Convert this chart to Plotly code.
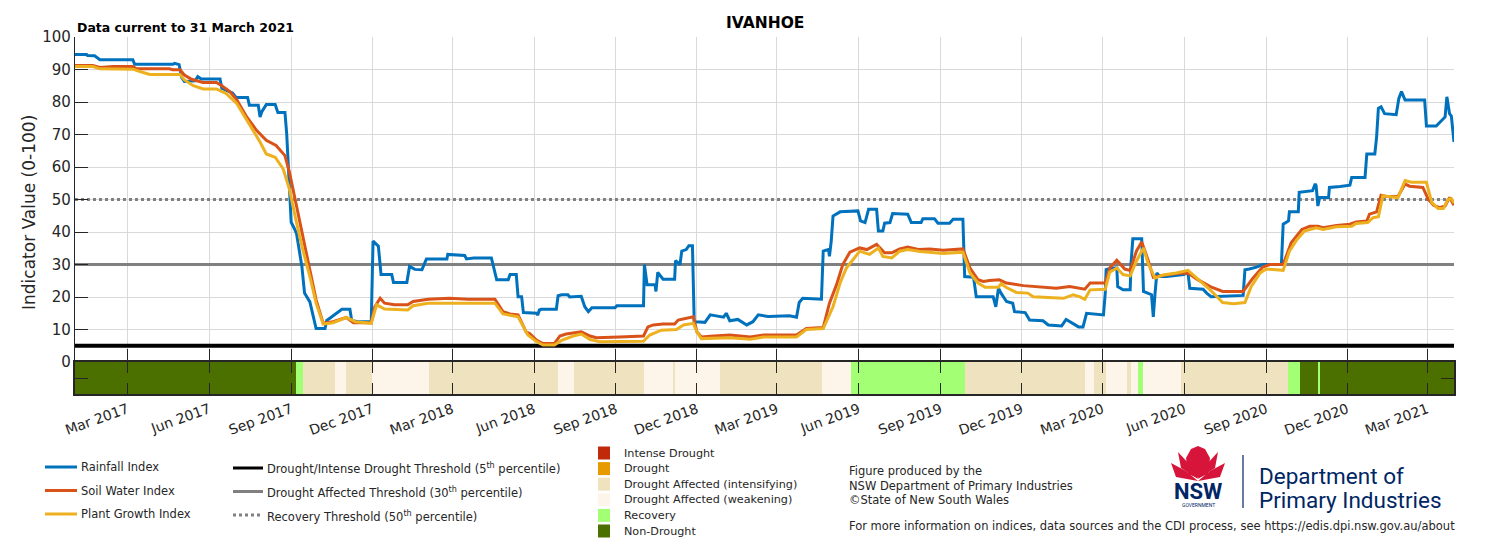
import plotly.graph_objects as go
import pandas as pd

# ---------------- data ----------------
BASE = pd.Timestamp("2017-01-01")
END_DAY = 1550  # 31 March 2021

title_text = "IVANHOE"
subtitle_text = "Data current to 31 March 2021"

# (day offset from 1 Jan 2017, index value)
rainfall = [(0,94.6),(13,94.6),(14,94.3),(22,94.2),(28,93.0),(65,93.0),(67,91.6),(110,91.6),(112,91.9),(117,91.5),
    (120,87.5),(123,86.3),(135,86.5),(138,87.8),(142,87.1),(163,87.1),(165,84.2),(177,82.8),(181,81.4),(194,81.4),
    (196,79.0),(206,79.0),(208,75.4),(210,77.0),(215,79.2),(225,79.2),(228,76.8),(236,76.8),(238,70.0),(241,55.0),
    (243,43.0),(247,40.8),(249,39.5),(255,29.4),(258,21.2),(264,18.5),(268,13.9),(271,10.3),(281,10.3),(283,12.8),
    (286,13.4),(292,14.5),(300,16.2),(309,16.2),(311,12.8),(318,12.4),(333,12.4),(335,37.2),(341,35.6),(344,26.9),
    (356,26.9),(358,24.5),(373,24.5),(376,29.4),(382,28.5),(390,28.4),(395,31.7),(418,31.7),(419,33.1),(438,32.8),
    (440,31.7),(448,32.0),(468,32.0),(474,25.3),(487,25.3),(489,26.9),(496,26.9),(498,20.1),(502,20.1),(504,15.2),
    (519,15.0),(520,14.4),(522,16.0),(524,16.2),(541,16.2),(543,20.4),(547,20.7),(554,20.7),(556,20.0),(569,20.2),
    (573,17.0),(577,15.5),(581,16.7),(607,16.7),(609,17.3),(639,17.3),(640,30.0),(643,23.8),(652,23.8),(653,21.7),
    (655,27.6),(661,25.5),(674,25.5),(675,31.2),(680,30.0),(682,34.1),(687,34.6),(690,35.8),(694,35.8),(696,12.4),
    (708,12.2),(714,14.5),(721,14.2),(729,13.8),(732,15.0),(736,12.7),(745,13.1),(755,11.4),(762,12.4),(768,14.5),
    (779,14.0),(803,14.2),(811,13.8),(814,18.3),(818,19.6),(839,19.3),(841,34.1),(847,34.6),(848,32.5),(850,37.2),
    (852,44.9),(860,46.2),(880,46.5),(883,43.4),(888,42.9),(892,47.0),(901,47.0),(903,40.3),(908,40.3),(910,42.7),
    (916,42.9),(919,45.7),(936,45.5),(940,42.9),(951,42.9),(953,44.1),(966,44.1),(970,42.7),(983,42.7),(987,43.9),
    (998,43.9),(1000,26.3),(1010,26.1),(1013,20.1),(1032,20.1),(1035,17.0),(1038,22.7),(1041,21.1),(1047,18.6),(1054,18.1),
    (1056,15.5),(1068,15.2),(1073,12.9),(1088,12.7),(1094,11.4),(1109,11.1),(1114,13.1),(1120,12.1),(1128,10.8),(1133,10.8),
    (1137,15.0),(1156,14.5),(1158,21.2),(1159,28.4),(1165,28.9),(1171,28.9),(1172,23.2),(1178,22.2),(1186,22.2),(1187,30.5),
    (1189,37.9),(1199,37.9),(1200,29.4),(1201,21.7),(1210,20.7),(1212,13.9),(1214,21.2),(1216,27.4),(1219,26.3),(1227,26.3),
    (1246,26.9),(1251,27.4),(1253,22.7),(1268,22.4),(1272,21.2),(1277,20.1),(1313,20.5),(1315,28.4),(1320,28.6),(1328,29.2),
    (1335,30.0),(1356,30.0),(1358,42.4),(1364,43.4),(1365,46.2),(1375,46.2),(1376,52.2),(1391,52.7),(1394,54.8),(1395,54.3),
    (1397,48.0),(1399,50.6),(1409,50.6),(1410,53.7),(1422,54.0),(1433,54.4),(1435,56.8),(1450,56.8),(1452,64.0),(1461,64.0),
    (1463,69.2),(1465,78.0),(1468,78.5),(1472,76.4),(1485,76.1),(1488,81.1),(1491,83.2),(1495,80.6),(1517,80.6),(1519,72.6),
    (1530,72.6),(1536,74.4),(1540,75.4),(1542,81.6),(1545,76.4),(1547,75.7),(1550,67.7)]

soil_water = [(0,91.2),(20,91.2),(28,90.6),(43,90.9),(65,90.9),(69,90.2),(106,90.2),(110,89.9),(118,89.9),(123,88.3),
    (131,87.0),(144,86.0),(159,86.0),(165,85.0),(174,83.2),(182,80.6),(193,75.4),(204,71.3),(215,68.2),(226,66.6),
    (236,63.5),(241,58.4),(249,48.0),(256,38.7),(264,28.4),(271,19.1),(279,11.9),(290,12.4),(305,13.7),(313,12.1),
    (333,12.1),(337,17.0),(343,19.6),(348,18.1),(359,17.6),(374,17.6),(380,18.6),(397,19.3),(421,19.6),(442,19.3),
    (472,19.3),(481,15.5),(489,14.8),(498,14.5),(507,9.3),(511,8.8),(519,6.7),(526,5.7),(539,5.7),(545,8.0),
    (552,8.6),(560,9.0),(569,9.3),(579,8.0),(586,7.5),(612,7.7),(639,8.0),(644,10.8),(650,11.4),(661,11.7),
    (674,11.7),(678,12.9),(685,13.4),(695,13.9),(699,9.3),(704,7.7),(714,7.9),(736,8.3),(759,7.7),(774,8.3),
    (811,8.3),(822,10.3),(841,10.6),(848,18.1),(856,23.8),(863,30.0),(871,33.8),(882,35.1),(890,34.6),(901,36.2),
    (910,33.6),(918,33.6),(927,34.8),(936,35.4),(948,34.6),(961,34.8),(976,34.4),(998,34.8),(1006,28.9),(1015,25.3),
    (1021,24.8),(1028,25.1),(1039,25.3),(1047,24.3),(1066,23.5),(1084,23.1),(1103,22.7),(1118,23.2),(1129,22.7),(1135,22.4),
    (1141,24.3),(1158,24.3),(1163,28.9),(1171,31.3),(1180,28.6),(1186,28.2),(1193,34.1),(1199,36.9),(1206,31.5),(1212,26.1),
    (1219,26.5),(1238,27.2),(1251,27.4),(1261,25.5),(1276,23.2),(1290,21.7),(1313,21.7),(1324,25.8),(1335,29.2),(1343,30.0),
    (1358,30.0),(1367,36.7),(1379,40.8),(1388,41.8),(1397,41.8),(1403,41.3),(1418,42.0),(1433,42.4),(1440,43.1),(1452,43.4),
    (1455,45.5),(1463,46.2),(1468,51.3),(1474,50.9),(1487,50.9),(1495,54.8),(1500,54.1),(1515,53.7),(1521,50.1),(1527,48.2),
    (1534,47.5),(1540,48.0),(1545,50.6),(1550,48.2)]

plant_growth = [(0,90.9),(20,90.9),(28,90.2),(65,90.1),(73,89.4),(84,88.5),(118,88.5),(123,86.8),(133,85.0),(144,84.0),
    (159,84.0),(170,82.6),(182,79.5),(197,72.8),(208,67.7),(215,64.0),(225,63.0),(234,59.4),(241,53.2),(249,42.9),
    (256,34.6),(264,26.3),(271,18.1),(279,11.7),(290,12.1),(305,13.7),(315,12.4),(333,11.9),(339,17.6),(348,16.3),
    (374,16.0),(380,17.3),(397,18.1),(472,18.1),(481,14.8),(498,13.9),(509,8.3),(519,6.2),(526,5.2),(539,5.2),
    (547,6.7),(560,8.0),(569,8.6),(579,6.9),(590,6.2),(639,6.4),(646,8.3),(659,9.8),(676,10.0),(684,11.4),
    (695,11.9),(699,9.3),(704,7.2),(736,7.5),(759,7.0),(774,7.7),(811,7.7),(822,10.0),(841,10.3),(852,17.0),
    (860,24.3),(867,28.9),(882,34.1),(893,33.1),(903,35.1),(908,32.5),(918,32.0),(927,34.1),(936,34.6),(950,34.0),
    (976,33.4),(998,33.8),(1006,27.4),(1015,24.3),(1023,23.0),(1038,23.0),(1041,24.1),(1047,22.9),(1058,21.4),(1071,21.2),
    (1077,20.1),(1111,19.6),(1122,20.7),(1129,20.1),(1135,19.3),(1141,22.2),(1158,22.4),(1163,27.6),(1171,28.9),(1178,26.9),
    (1186,26.5),(1193,31.0),(1201,35.1),(1206,30.5),(1214,25.8),(1223,26.8),(1238,27.4),(1251,28.2),(1261,25.8),(1276,22.2),
    (1290,18.3),(1302,17.9),(1315,18.3),(1322,23.2),(1332,27.4),(1339,28.6),(1358,28.2),(1365,34.1),(1373,37.5),(1382,40.3),
    (1395,41.3),(1403,40.8),(1418,41.6),(1435,41.8),(1440,42.6),(1453,42.9),(1459,44.4),(1465,44.7),(1470,51.1),(1487,50.6),
    (1495,55.8),(1502,55.3),(1519,55.3),(1525,49.1),(1532,47.2),(1538,47.2),(1543,49.9),(1547,50.3),(1550,48.9)]

series_names = ["Rainfall Index", "Soil Water Index", "Plant Growth Index"]
series_colors = ["#0072BD", "#D95319", "#EDB120"]

threshold_values = [5, 30, 50]
threshold_names = ["Drought/Intense Drought Threshold (5<sup>th</sup> percentile)",
                   "Drought Affected Threshold (30<sup>th</sup> percentile)",
                   "Recovery Threshold (50<sup>th</sup> percentile)"]

# drought status band: start day of each phase and its category
band_start_days = [0, 248, 256, 292, 305, 334, 398, 543, 561, 640, 672, 674, 725, 840,
                   872, 1000, 1135, 1145, 1159, 1182, 1187, 1195, 1200, 1243, 1363, 1377, 1397, 1399]
band_categories = ["ND", "R", "I", "W", "I", "W", "I", "W", "I", "W", "I", "W", "I", "W",
                   "R", "I", "W", "I", "W", "I", "W", "R", "W", "I", "R", "ND", "R", "ND"]
status_codes = ["ID", "D", "I", "W", "R", "ND"]
status_names = ["Intense Drought", "Drought", "Drought Affected (intensifying)",
                "Drought Affected (weakening)", "Recovery", "Non-Drought"]
status_colors = ["#C1290B", "#E69A00", "#EFE2BE", "#FEF5EA", "#A3FF73", "#4C7000"]

tick_dates = ["2017-03-01", "2017-06-01", "2017-09-01", "2017-12-01", "2018-03-01", "2018-06-01",
              "2018-09-01", "2018-12-01", "2019-03-01", "2019-06-01", "2019-09-01", "2019-12-01",
              "2020-03-01", "2020-06-01", "2020-09-01", "2020-12-01", "2021-03-01"]
tick_labels = ["Mar 2017", "Jun 2017", "Sep 2017", "Dec 2017", "Mar 2018", "Jun 2018",
               "Sep 2018", "Dec 2018", "Mar 2019", "Jun 2019", "Sep 2019", "Dec 2019",
               "Mar 2020", "Jun 2020", "Sep 2020", "Dec 2020", "Mar 2021"]

# ---------------- figure ----------------
W, H = 1500, 541
ML, MR, MT, MB = 75, 46, 37, 147
PW, PH = W - ML - MR, H - MT - MB
BAND_FRAC = 32 / PH
FONT = "DejaVu Sans"
AX = "#262626"


def to_dates(days):
    return [BASE + pd.Timedelta(days=d) for d in days]


def pp(px, py):
    """pixel position -> paper coordinates (for legend/annotation decoration)"""
    return (px - ML) / PW, (H - MB - py) / PH


fig = go.Figure()

# drought status band
seg_ends = band_start_days[1:] + [END_DAY]
for code, col in zip(status_codes, status_colors):
    idx = [i for i, c in enumerate(band_categories) if c == code]
    if not idx:
        continue
    fig.add_trace(go.Bar(
        x=to_dates([band_start_days[i] for i in idx]),
        y=[10] * len(idx), base=-10, offset=0,
        width=[(seg_ends[i] - band_start_days[i]) * 86400000 for i in idx],
        marker=dict(color=col, line=dict(width=0)),
        xaxis="x2", yaxis="y2", showlegend=False, hoverinfo="skip"))

# thresholds
thr_styles = [dict(color="black", width=4), dict(color="#808080", width=3),
              dict(color="#808080", width=3, dash="3px,3px")]
for v, st in zip(threshold_values, thr_styles):
    fig.add_trace(go.Scatter(x=to_dates([0, END_DAY]), y=[v, v], mode="lines",
                             line=st, showlegend=False, hoverinfo="skip"))

# index series
for data, name, col in zip([rainfall, soil_water, plant_growth], series_names, series_colors):
    fig.add_trace(go.Scatter(x=to_dates([d for d, _ in data]), y=[v for _, v in data],
                             mode="lines", name=name, line=dict(color=col, width=3),
                             showlegend=False))

fig.update_layout(
    width=W, height=H, margin=dict(l=ML, r=MR, t=MT, b=MB),
    paper_bgcolor="white", plot_bgcolor="white",
    font=dict(family=FONT, color=AX),
    barmode="overlay", bargap=0,
    xaxis=dict(domain=[0, 1], anchor="y", type="date",
               range=[BASE, BASE + pd.Timedelta(days=END_DAY)],
               tickvals=tick_dates, showticklabels=False, ticks="inside", ticklen=13,
               tickcolor=AX, tickwidth=1.2, showgrid=True, gridcolor="#D9D9D9", gridwidth=1,
               showline=True, linecolor=AX, linewidth=2, zeroline=False),
    yaxis=dict(domain=[BAND_FRAC, 1], anchor="x", range=[0, 100],
               tickvals=list(range(0, 101, 10)), ticks="inside", ticklen=13, tickcolor=AX,
               tickwidth=1.2, tickfont=dict(size=15, color=AX), showgrid=True,
               gridcolor="#D9D9D9", gridwidth=1, showline=True, linecolor=AX, linewidth=1.2,
               zeroline=False),
    xaxis2=dict(domain=[0, 1], anchor="y2", matches="x", type="date",
                tickvals=tick_dates, ticktext=tick_labels, tickangle=-20,
                tickfont=dict(size=14, color=AX), ticks="inside", ticklen=11,
                tickcolor=AX, tickwidth=1.2, showgrid=False, showline=True, linecolor=AX,
                linewidth=2, mirror="ticks", zeroline=False),
    yaxis2=dict(domain=[0, BAND_FRAC], anchor="x2", range=[-10, 0], tickvals=[-5],
                showticklabels=False, ticks="inside", ticklen=13, tickcolor=AX, tickwidth=1.2,
                showgrid=False, showline=True, linecolor=AX, linewidth=2, mirror="ticks",
                zeroline=False),
)

ann = []
shapes = []


def text(px, py, s, size=11, xanchor="left", yanchor="middle", bold=False, color="#262626",
         family=FONT, angle=0):
    x, y = pp(px, py)
    ann.append(dict(x=x, y=y, xref="paper", yref="paper", text=("<b>%s</b>" % s) if bold else s,
                    showarrow=False, xanchor=xanchor, yanchor=yanchor, textangle=angle,
                    font=dict(size=size, color=color, family=family)))


def seg(px0, py0, px1, py1, color, width, dash=None):
    x0, y0 = pp(px0, py0)
    x1, y1 = pp(px1, py1)
    ln = dict(color=color, width=width)
    if dash:
        ln["dash"] = dash
    shapes.append(dict(type="line", xref="paper", yref="paper", x0=x0, y0=y0, x1=x1, y1=y1, line=ln))


def rect(px0, py0, px1, py1, color):
    x0, y0 = pp(px0, py0)
    x1, y1 = pp(px1, py1)
    shapes.append(dict(type="rect", xref="paper", yref="paper", x0=x0, y0=y0, x1=x1, y1=y1,
                       fillcolor=color, line=dict(width=0)))


def path(points, color):
    parts = []
    for i, (a, b) in enumerate(points):
        x, y = pp(a, b)
        parts.append(("M" if i == 0 else "L") + " %.5f %.5f" % (x, y))
    shapes.append(dict(type="path", xref="paper", yref="paper", path=" ".join(parts) + " Z",
                       fillcolor=color, line=dict(width=0)))


# titles
text(765, 23, title_text, size=15.5, xanchor="center", bold=True, color="black")
text(75, 37, subtitle_text, size=12.5, yanchor="bottom", bold=True, color="black")
text(29, 213, "Indicator Value (0-100)", size=17, xanchor="center", angle=-90)

# legend: index series
for i, (name, col) in enumerate(zip(series_names, series_colors)):
    y = 467 + i * 23.5
    seg(45, y, 77, y, col, 3)
    text(79, y, name, size=11.5)

# legend: thresholds
thr_leg = [("black", None), ("#808080", None), ("#808080", "dot")]
for i, (name, (col, dash)) in enumerate(zip(threshold_names, thr_leg)):
    y = 468 + i * 23.5
    seg(233, y, 263, y, col, 3, dash)
    text(265, y + 1, name, size=11.5)

# legend: drought status
for i, (name, col) in enumerate(zip(status_names, status_colors)):
    y = 453 + i * 15.6
    rect(598, y - 6.5, 610, y + 6.5, col)
    text(622, y, name, size=11.2)

# credits
text(847, 471, "Figure produced by the", size=11.5)
text(847, 486, "NSW Department of Primary Industries", size=11.5)
text(847, 500, "©State of New South Wales", size=11.5)
text(847, 526, "For more information on indices, data sources and the CDI process, see https://edis.dpi.nsw.gov.au/about", size=11.5)

# NSW logo (stylised waratah)
RED = "#D7153A"
NAVY = "#002664"
path([(1198, 481), (1176, 477), (1171, 463), (1186, 471)], RED)
path([(1198, 481), (1220, 477), (1225, 463), (1210, 471)], RED)
path([(1198, 479), (1181, 468), (1178, 452), (1191, 466)], RED)
path([(1198, 479), (1215, 468), (1218, 452), (1205, 466)], RED)
path([(1188, 474), (1186, 458), (1191, 449), (1198, 446), (1205, 449), (1210, 458), (1208, 474), (1198, 478)], RED)
text(1198, 492, "NSW", size=22, xanchor="center", bold=True, color=NAVY, family="Roboto")
text(1198, 505, "GOVERNMENT", size=5, xanchor="center", color=NAVY, family="Roboto")
seg(1243, 455, 1243, 508, NAVY, 1.2)
text(1257, 476, "Department of", size=22.5, color=NAVY, family="Roboto")
text(1257, 500, "Primary Industries", size=22.5, color=NAVY, family="Roboto")

fig.update_layout(annotations=ann, shapes=shapes)
fig.write_html("out.html")
